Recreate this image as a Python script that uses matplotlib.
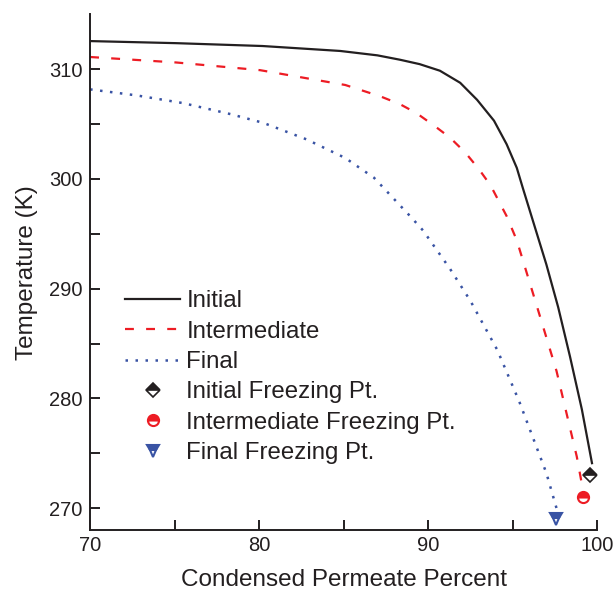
import numpy as np
import matplotlib
matplotlib.use('Agg')
import matplotlib.pyplot as plt

plt.rcParams['font.family'] = ['Liberation Sans', 'DejaVu Sans']
plt.rcParams['text.color'] = '#231f20'
plt.rcParams['axes.labelcolor'] = '#231f20'
plt.rcParams['xtick.color'] = '#231f20'
plt.rcParams['ytick.color'] = '#231f20'

# values
x_initial = [70, 75.1, 80.2, 84.8, 87.0, 88.34, 89.5, 90.7, 91.9, 92.9, 93.9, 94.65, 95.25, 95.6,
             96.2, 97.0, 97.7, 98.4, 99.1, 99.7]
t_initial = [312.55, 312.36, 312.1, 311.65, 311.25, 310.85, 310.45, 309.85, 308.75, 307.2, 305.3, 303.15, 301.0, 299.2,
             296.2, 292.2, 288.3, 283.8, 279.0, 274.1]

x_inter = [70, 75.1, 80.06, 85.1, 87.2, 88.34, 89.3, 90.4, 91.3, 92.2, 93.0, 93.7, 94.65, 95.25,
           96.4, 97.6, 98.8, 99.1]
t_inter = [311.1, 310.6, 309.9, 308.55, 307.5, 306.8, 306.0, 304.8, 303.75, 302.4, 300.9, 299.4, 296.6, 294.4,
           288.6, 282.5, 274.7, 272.2]

x_final = [70, 72.76, 75.5, 78.3, 80.25, 82.8, 85.1, 86.8, 89.0, 89.7, 91.3, 92.5, 94.1, 95.4, 97.0, 97.6]
t_final = [308.15, 307.6, 306.9, 305.9, 305.1, 303.6, 301.9, 300.1, 296.5, 295.3, 291.8, 288.9, 284.4, 279.7, 273.2, 270.0]

freeze_x = [99.6, 99.15, 97.55]
freeze_t = [273.0, 271.0, 269.0]

black = '#231f20'
red = '#ed1c24'
blue = '#3953a4'

fig = plt.figure(figsize=(6.13, 5.91), dpi=100)
ax = fig.add_axes([0.147, 0.103, 0.827, 0.873])

ax.plot(x_initial, t_initial, color=black, lw=1.6, label='Initial')
ax.plot(x_inter, t_inter, color=red, lw=1.6, linestyle=(0, (4, 5.5)), label='Intermediate')
ax.plot(x_final, t_final, color=blue, lw=1.8, linestyle=(0, (1, 3)), label='Final')

ax.plot(freeze_x[0], freeze_t[0], linestyle='none', marker='D', ms=7, color=black,
        fillstyle='top', markerfacecoloralt='white', mec=black, mew=1.2,
        label='Initial Freezing Pt.')
ax.plot(freeze_x[1], freeze_t[1], linestyle='none', marker='o', ms=8, color=red,
        fillstyle='top', markerfacecoloralt='white', mec=red, mew=1.5,
        label='Intermediate Freezing Pt.')
ax.plot(freeze_x[2], freeze_t[2], linestyle='none', marker='v', ms=8, color=blue,
        fillstyle='top', markerfacecoloralt='white', mec=blue, mew=1.5,
        label='Final Freezing Pt.')

ax.set_xlim(70, 100)
ax.set_ylim(268, 315)
ax.set_xticks([70, 80, 90, 100])
ax.set_xticks([75, 85, 95], minor=True)
ax.set_yticks([270, 280, 290, 300, 310])
ax.set_yticks([275, 285, 295, 305], minor=True)

for s in ['top', 'right']:
    ax.spines[s].set_visible(False)
for s in ['left', 'bottom']:
    ax.spines[s].set_linewidth(1.4)
    ax.spines[s].set_color(black)

ax.tick_params(which='both', direction='in', width=1.4, labelsize=14.5)
ax.tick_params(which='both', length=7)
ax.tick_params(axis='y', which='both', pad=5.5)
ax.tick_params(axis='x', which='both', pad=4)

ax.set_xlabel('Condensed Permeate Percent', fontsize=17.5, labelpad=10)
ax.set_ylabel('Temperature (K)', fontsize=17.5, labelpad=8)

ax.legend(loc='upper left', bbox_to_anchor=(0.069, 0.465), frameon=False,
          fontsize=17.3, handlelength=2.3, handletextpad=0.25, labelspacing=0.35,
          borderpad=0, borderaxespad=0)

fig.savefig('out.png', dpi=100)
